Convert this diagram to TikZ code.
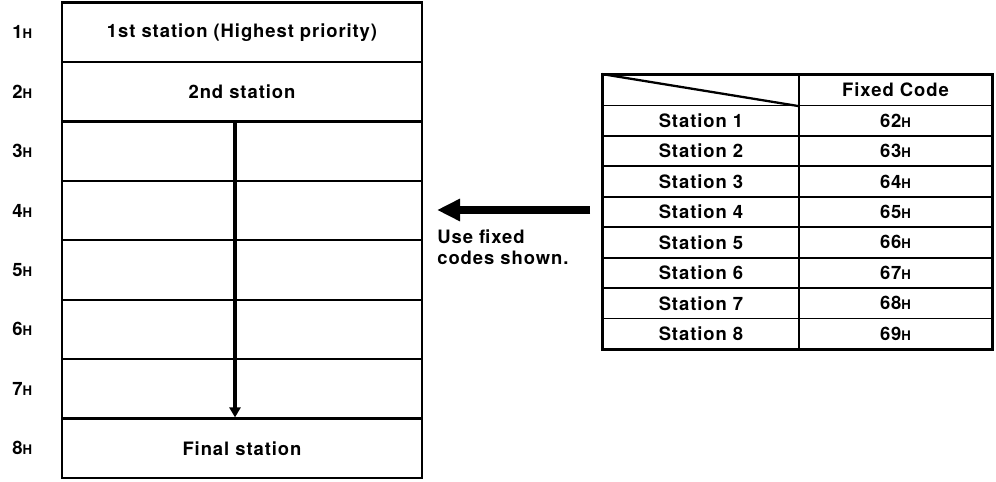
\documentclass[tikz,border=0pt]{standalone}
\usepackage{fontspec}
\setmainfont{TeX Gyre Heros}[LetterSpace=5]
\usetikzlibrary{arrows.meta}
\newcommand{\hx}{{\fontsize{7.5}{8}\selectfont H}}

\begin{document}
\begin{tikzpicture}[x=0.02cm,y=-0.02cm]
    \tikzstyle{every node}=[font=\fontsize{10.5}{12}\selectfont\bfseries];
    \tikzstyle{slot}=[draw,line width=1.3pt,minimum width=7.2cm,minimum height=1.19cm,inner sep=0pt];
    \tikzstyle{cell}=[draw,line width=1pt,minimum width=3.92cm,minimum height=0.609cm,inner sep=0pt];
    \tikzstyle{code}=[cell,minimum width=3.86cm];
    \tikzstyle{addr}=[anchor=west,inner sep=0pt];
    \useasboundingbox (0,0) rectangle (996,482);
    %stations, top to bottom
    \node[slot] (s1) at (242,32.2) {1st station (Highest priority)};
    \node[slot] (s2) at (242,91.7) {2nd station};
    \node[slot] (s3) at (242,151.1) {};
    \node[slot] (s4) at (242,210.5) {};
    \node[slot] (s5) at (242,270) {};
    \node[slot] (s6) at (242,329.4) {};
    \node[slot] (s7) at (242,388.8) {};
    \node[slot] (s8) at (242,448.3) {Final station};
    \node[addr] (a1) at (12,32.2) {1\hx};
    \node[addr] (a2) at (12,91.7) {2\hx};
    \node[addr] (a3) at (12,151.1) {3\hx};
    \node[addr] (a4) at (12,210.5) {4\hx};
    \node[addr] (a5) at (12,270) {5\hx};
    \node[addr] (a6) at (12,329.4) {6\hx};
    \node[addr] (a7) at (12,388.8) {7\hx};
    \node[addr] (a8) at (12,448.3) {8\hx};
    \draw[line width=2.3pt,-{Triangle[length=0.2cm,width=0.22cm]}]
    ([xshift=-0.14cm]s2.south) -- ([xshift=-0.14cm]s8.north);
    %fixed code table
    \node[cell] (h0) at (701,90.2) {};
    \node[code] (hc) at (895.5,90.2) {Fixed Code};
    \node[cell] (n1) at (701,120.7) {Station 1};
    \node[code] (c1) at (895.5,120.7) {62\hx};
    \node[cell] (n2) at (701,151.1) {Station 2};
    \node[code] (c2) at (895.5,151.1) {63\hx};
    \node[cell] (n3) at (701,181.5) {Station 3};
    \node[code] (c3) at (895.5,181.5) {64\hx};
    \node[cell] (n4) at (701,212) {Station 4};
    \node[code] (c4) at (895.5,212) {65\hx};
    \node[cell] (n5) at (701,242.4) {Station 5};
    \node[code] (c5) at (895.5,242.4) {66\hx};
    \node[cell] (n6) at (701,272.9) {Station 6};
    \node[code] (c6) at (895.5,272.9) {67\hx};
    \node[cell] (n7) at (701,303.3) {Station 7};
    \node[code] (c7) at (895.5,303.3) {68\hx};
    \node[cell] (n8) at (701,333.7) {Station 8};
    \node[code] (c8) at (895.5,333.7) {69\hx};
    \draw[line width=1.3pt] (h0.north west) -- (h0.south east);
    \draw[line width=1.7pt] (h0.north west) rectangle (c8.south east);
    %arrow to the stations
    \coordinate (from) at (590,210);
    \coordinate (to) at (437,210);
    \draw[line width=4pt,-{Triangle[length=0.46cm,width=0.42cm]}] (from) -- (to);
    \node[anchor=north west,inner sep=0pt,align=left] (note) at (437,229) {Use fixed\\codes shown.};
  \end{tikzpicture}
\end{document}
